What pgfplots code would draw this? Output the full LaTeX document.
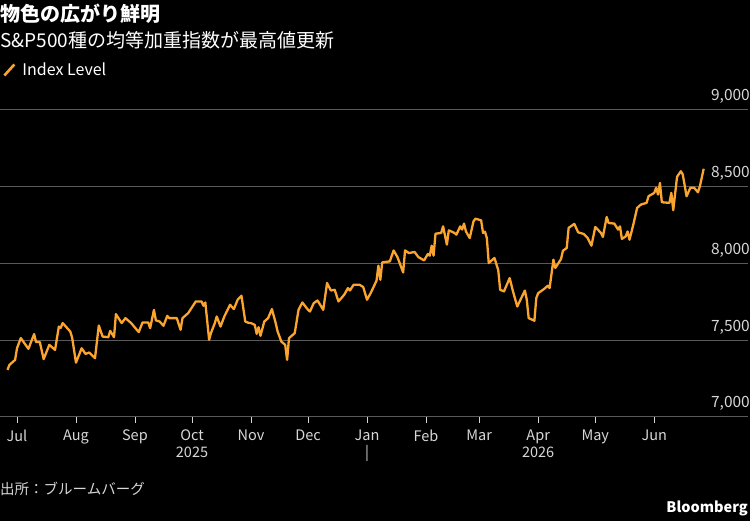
\documentclass[border=0pt]{standalone}
\usepackage{pgfplots}
\usepackage{pgfplotstable}
\pgfplotsset{compat=1.18}
\usepackage{fontspec}
\setmainfont{Noto Sans CJK JP}
\definecolor{lineorange}{RGB}{251,165,46}
\definecolor{gridgray}{RGB}{90,90,90}
\definecolor{labgray}{RGB}{215,215,215}
\pgfplotstableread{
day value
-5 7307
-4 7339
-1 7372
0 7448
2 7514
6 7444
9 7540
10 7488
12 7488
14 7377
17 7470
20 7437
22 7589
23 7581
24 7612
28 7557
29 7516
31 7354
34 7448
36 7411
38 7420
41 7383
43 7596
45 7524
48 7520
49 7561
51 7520
52 7670
55 7612
57 7644
60 7612
64 7553
66 7616
69 7616
70 7579
72 7698
73 7629
75 7622
77 7594
79 7659
80 7644
84 7644
86 7568
87 7644
90 7677
94 7753
97 7753
98 7725
99 7746
101 7503
102 7548
104 7612
105 7655
107 7589
109 7655
112 7731
114 7703
116 7764
118 7790
120 7622
122 7612
123 7612
125 7600
126 7542
127 7585
128 7529
130 7622
132 7644
134 7703
136 7612
137 7557
139 7491
141 7470
142 7372
143 7514
146 7546
148 7698
150 7746
153 7698
154 7687
156 7742
158 7759
161 7698
163 7873
165 7824
167 7829
169 7753
172 7796
174 7840
175 7824
177 7862
180 7862
182 7847
184 7764
186 7809
189 7888
190 7986
191 7894
192 8007
196 8014
198 8085
200 8042
203 7942
204 8085
206 8068
209 8075
211 8042
214 8020
216 8062
217 8051
218 8116
219 8051
220 8194
223 8199
224 8242
226 8123
227 8216
230 8199
231 8188
233 8242
234 8221
235 8260
236 8209
238 8166
240 8275
241 8292
244 8281
245 8199
246 8207
247 8166
248 8003
251 8036
253 7957
254 7829
256 7818
259 7905
261 7807
263 7720
267 7824
268 7764
269 7644
271 7633
272 7627
273 7775
274 7807
277 7833
279 7855
280 7840
282 8025
283 7971
286 8029
287 8083
289 8101
290 8232
293 8258
295 8203
298 8192
300 8166
302 8116
304 8238
307 8199
308 8173
310 8303
311 8264
314 8260
316 8221
317 8242
318 8160
320 8177
321 8209
322 8155
324 8253
326 8362
328 8384
331 8395
332 8438
335 8460
336 8493
337 8449
338 8525
339 8399
343 8395
344 8460
345 8347
347 8565
349 8601
350 8580
352 8438
354 8493
356 8493
358 8464
359 8503
361 8617
}\idx
\begin{document}
\begin{tikzpicture}[x=1pt,y=1pt]
\fill[black] (0pt,0pt) rectangle (750pt,521pt);
\useasboundingbox (0pt,0pt) rectangle (750pt,521pt);
\begin{axis}[
  at={(0pt,104pt)}, anchor=south west,
  scale only axis, width=748pt, height=307pt,
  xmin=-8.94, xmax=384.3, ymin=7000, ymax=9000,
  axis line style={draw=none},
  ytick={7000,7500,8000,8500,9000},
  ymajorgrids, grid style={gridgray, line width=1pt},
  ytick pos=right, yticklabel pos=right,
  y tick style={draw=none},
  yticklabel style={anchor=south east, inner sep=0pt, xshift=-4pt, yshift=6pt, text=labgray, font=\fontsize{15.5}{18}\selectfont},
  /pgf/number format/assume math mode=true,
  /pgf/number format/1000 sep={,},
  xtick={0,31,62,92,123,153,184,215,243,274,304,335},
  xticklabels={Jul,Aug,Sep,{Oct\\2025},Nov,Dec,{Jan\\|},Feb,Mar,{Apr\\2026},May,Jun},
  xtick pos=bottom, tick align=outside, major tick length=6pt,
  x tick style={labgray, line width=0.8pt},
  xticklabel style={align=center, anchor=north, yshift=-3pt, text=labgray, font=\fontsize{14.5}{17}\selectfont},
  clip=false,
  legend style={at={(0,1.1303)}, anchor=west, draw=none, fill=none, inner sep=0pt, text=white, font=\fontsize{16}{19}\selectfont},
  legend image code/.code={\path (0pt,0pt) (18pt,0pt); \draw[lineorange, line width=2.6pt] (3pt,-5.5pt) -- (13pt,5.5pt);},
]
\addplot[lineorange, line width=2.3pt, line join=round] table[x=day,y=value]{\idx};
\addlegendentry{Index Level}
\end{axis}
\node[anchor=west, inner sep=0pt, text=white, font=\bfseries\fontsize{20}{24}\selectfont] at (0pt,507pt) {物色の広がり鮮明};
\node[anchor=west, inner sep=0pt, text=white, font=\fontsize{19}{22}\selectfont] at (0pt,481pt) {S\&P500種の均等加重指数が最高値更新};
\node[anchor=west, inner sep=0pt, text=labgray, font=\fontsize{14.5}{17}\selectfont] at (0pt,32pt) {出所：ブルームバーグ};
\node[anchor=east, inner sep=0pt, text=white, font=\bfseries\fontsize{14.5}{17}\selectfont] at (748pt,13pt) {Bloomberg};
\end{tikzpicture}
\end{document}
